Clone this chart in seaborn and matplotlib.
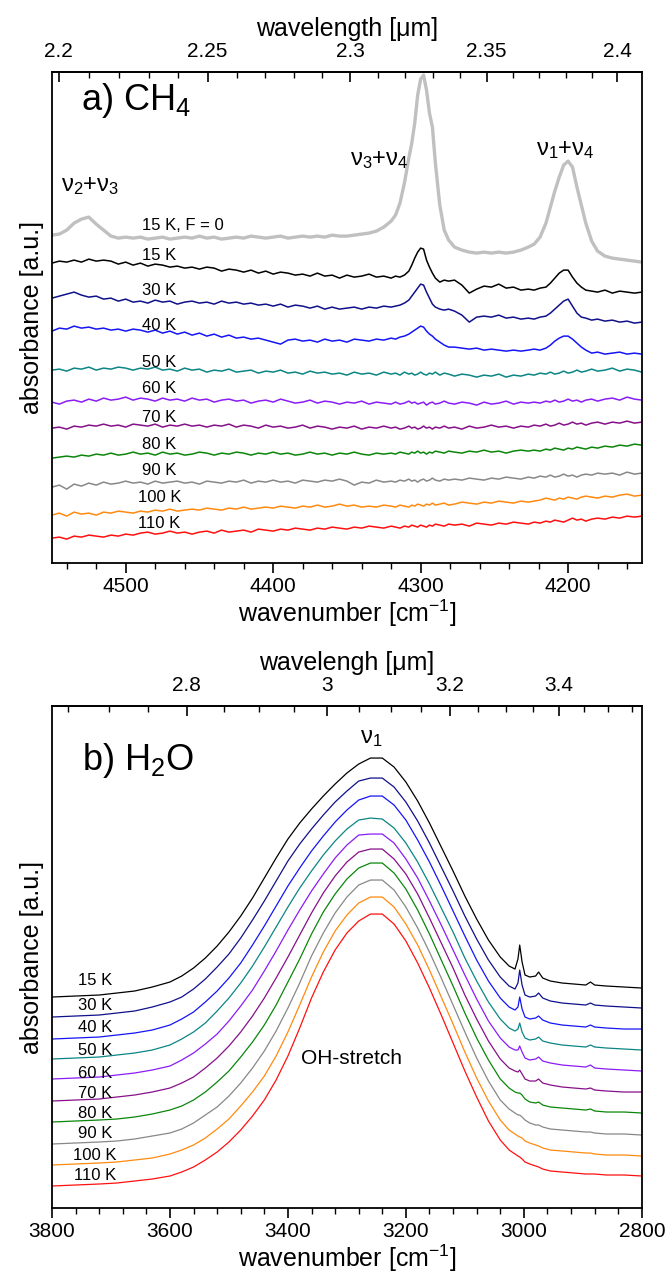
import numpy as np
import matplotlib
matplotlib.use('Agg')
import matplotlib.pyplot as plt
import seaborn as sns
from matplotlib.ticker import FixedLocator, MultipleLocator

sns.set_theme(style='white')
plt.rcParams['font.family'] = ['Liberation Sans', 'DejaVu Sans']
plt.rcParams['mathtext.fontset'] = 'custom'
plt.rcParams['mathtext.rm'] = 'Liberation Sans'
plt.rcParams['mathtext.it'] = 'Liberation Sans:italic'
plt.rcParams['mathtext.default'] = 'regular'
plt.rcParams['text.color'] = 'black'
plt.rcParams['axes.labelcolor'] = 'black'
plt.rcParams['xtick.color'] = 'black'
plt.rcParams['ytick.color'] = 'black'

# ---------------- panel a) CH4 : wavenumber grid [cm-1] ----------------
wn_ch4 = [4550, 4545, 4540, 4535, 4530, 4525, 4520, 4515, 4510, 4505, 4500, 4495, 4490, 4485, 4480, 4475,
          4470, 4465, 4460, 4455, 4450, 4445, 4440, 4435, 4430, 4425, 4420, 4415, 4410, 4405, 4400, 4395,
          4390, 4385, 4380, 4375, 4370, 4365, 4360, 4355, 4350, 4345, 4340, 4335, 4330, 4325, 4320,
          4317, 4314, 4311, 4308, 4306, 4304, 4302, 4300, 4298, 4296, 4294, 4292, 4290, 4287, 4284, 4281,
          4277, 4272, 4267, 4262, 4257, 4252, 4247, 4242, 4237, 4232, 4227,
          4223, 4219, 4215, 4212, 4209, 4206, 4203, 4200, 4197, 4194, 4191, 4188, 4184, 4180,
          4175, 4170, 4165, 4160, 4155, 4150]

ch4_labels = ['15 K, F = 0', '15 K', '30 K', '40 K', '50 K', '60 K', '70 K', '80 K', '90 K', '100 K', '110 K']

ch4_15K_F0 = [0, 1, 5, 12, 16, 18, 11, 5, -1, -3, -2, -3, -2, -4, -3, -2, -4, -3, -2, -3, -1, -3, -2, -4, -3, -2,
              -3, -1, -2, -3, -2, -1, -3, -2, -1, -2, -1, -2, 0, -1, -1, 0, 1, 2, 4, 8, 14,
              20, 32, 52, 77, 92, 112, 140, 156, 160, 145, 122, 108, 72, 30, 5, -5,
              -12, -15, -17, -18, -17, -18, -17, -18, -17, -15, -12,
              -9, -2, 12, 28, 44, 58, 70, 74, 68, 48, 30, 12, -6, -16,
              -21, -23, -24, -25, -26, -27]
ch4_15K = [0, 2, 1, 3, 1, 4, 2, 3, 2, -1, 1, -2, 0, -3, -1, -2, -4, -3, -5, -4, -6, -4, -5, -8, -6, -7,
           -9, -7, -10, -8, -11, -9, -10, -12, -11, -13, -10, -13, -12, -15, -12, -14, -13, -11, -14, -13, -15,
           -13, -14, -12, -8, -2, 5, 11, 15, 14, 3, -4, -10, -15, -19, -17, -18,
           -17, -22, -30, -26, -23, -24, -21, -25, -24, -27, -26,
           -27, -25, -24, -20, -15, -10, -7, -7, -14, -20, -24, -27, -28, -29,
           -27, -30, -28, -29, -30, -29]
ch4_30K = [0, 2, 4, 6, 3, 1, 2, -1, 0, -3, -1, -4, -3, -5, -2, -4, -3, -6, -4, -3, -5, -4, -6, -3, -5, -4,
           -6, -5, -7, -6, -8, -6, -9, -7, -8, -10, -8, -11, -9, -11, -10, -9, -11, -9, -10, -8, -9,
           -8, -7, -5, -2, 2, 6, 10, 14, 13, 6, 0, -6, -9, -11, -12, -11,
           -13, -17, -24, -19, -18, -19, -17, -20, -19, -21, -20,
           -21, -19, -18, -15, -11, -7, -3, -1, -8, -15, -19, -20, -22, -21,
           -23, -22, -24, -23, -25, -24]
ch4_40K = [0, 3, 2, 5, 3, 4, 2, 3, 1, 2, 0, 2, 1, -1, 1, -2, 0, -3, -1, -4, -2, -5, -3, -6, -4, -7,
           -6, -8, -7, -9, -11, -13, -9, -8, -10, -9, -11, -8, -10, -9, -11, -8, -9, -10, -8, -9, -7,
           -8, -6, -5, -3, -1, 1, 3, 5, 4, 0, -3, -5, -8, -11, -14, -16,
           -16, -17, -18, -17, -19, -18, -19, -20, -19, -20, -19,
           -18, -19, -17, -14, -10, -7, -5, -5, -8, -12, -16, -19, -22, -21,
           -23, -22, -21, -23, -22, -23]
ch4_50K = [0, 1, -1, 2, 1, 3, 0, 2, 1, 3, 2, 0, 2, 1, 3, 0, 1, -1, 2, 0, 1, -2, 0, -1, 1, -2,
           -1, 0, -3, -1, -2, 0, -3, -2, -4, -1, -3, -2, -4, -3, -5, -2, -4, -3, -5, -2, -4,
           -3, -5, -2, -4, -3, -5, -4, -2, -4, -5, -3, -4, -2, -5, -3, -4,
           -6, -4, -5, -7, -5, -6, -4, -7, -5, -6, -4,
           -5, -3, -4, -2, -4, -3, -1, -3, -2, 0, -2, -1, 1, -1,
           0, 2, -1, 1, 0, -2]
ch4_60K = [0, -2, 1, 2, 0, 3, 1, 4, 2, 3, 5, 2, 4, 3, 1, 4, 2, 3, 1, 4, 2, 3, 0, 2, 3, 1,
           2, -1, 1, 2, 0, 3, 1, -1, 0, 2, -1, 1, 0, -2, 0, -1, 1, -2, 0, -1, -2,
           0, -2, -1, 1, -1, 0, -2, -1, 0, -3, -1, 0, -2, -1, 1, -1,
           -2, 0, -1, -3, 0, -2, -1, 1, -2, 0, -1,
           0, -1, 1, 0, 2, 0, 1, 3, 1, 2, 0, 2, 3, 1,
           3, 4, 2, 5, 3, 2]
ch4_70K = [0, 1, -1, 2, 1, 3, 2, 4, 2, 3, 1, 4, 3, 2, 4, 1, 3, 2, 4, 2, 3, 1, 3, 2, 4, 1,
           3, 2, 0, 3, 1, 2, 0, 1, 3, 0, 2, 1, -1, 1, 0, 2, -1, 1, 0, 2, 0,
           1, -1, 0, 2, 0, 1, -1, 0, 2, 0, 1, -1, 1, 0, 2, 0,
           1, -1, 2, 0, 1, 3, 1, 2, 0, 2, 1,
           3, 2, 4, 2, 3, 5, 3, 4, 6, 4, 5, 3, 5, 6,
           4, 6, 5, 7, 5, 6]
ch4_80K = [0, 1, 2, 1, 3, 2, 4, 3, 5, 3, 4, 6, 4, 5, 3, 6, 4, 5, 3, 4, 6, 5, 3, 5, 4, 6,
           5, 3, 5, 4, 6, 4, 5, 3, 4, 6, 4, 5, 3, 5, 4, 6, 4, 3, 5, 4, 5,
           4, 6, 5, 4, 6, 5, 7, 5, 6, 4, 6, 5, 7, 6, 5, 7,
           6, 5, 7, 6, 8, 6, 7, 5, 7, 8, 7,
           8, 7, 9, 8, 10, 9, 8, 10, 9, 11, 10, 9, 11, 10,
           12, 11, 13, 12, 14, 13]
ch4_90K = [0, 2, -2, 3, 1, 4, 2, 5, 3, 4, 6, 4, 5, 3, 6, 4, 5, 6, 4, 5, 3, 6, 5, 4, 6, 5,
           7, 4, 6, 5, 7, 5, 6, 4, 7, 6, 5, 7, 6, 8, 6, 2, 5, 4, 7, 5, 6,
           5, 7, 6, 8, 6, 7, 5, 7, 8, 6, 7, 9, 7, 6, 8, 7,
           8, 7, 9, 8, 7, 9, 8, 10, 9, 8, 10,
           9, 11, 10, 12, 10, 11, 13, 11, 12, 10, 12, 13, 12, 14,
           13, 14, 12, 15, 13, 14]
ch4_100K = [0, 2, -1, 3, 1, 2, 0, 3, 2, 4, 3, 2, 4, 3, 5, 4, 6, 4, 5, 6, 5, 7, 6, 5, 7, 6,
            8, 6, 7, 8, 7, 9, 8, 7, 9, 8, 10, 8, 9, 11, 9, 10, 8, 9, 8, 10, 9,
            8, 10, 9, 8, 10, 9, 11, 10, 9, 11, 10, 12, 10, 11, 12, 10,
            11, 13, 12, 11, 13, 12, 14, 13, 12, 14, 13,
            14, 15, 17, 16, 15, 17, 16, 18, 17, 16, 18, 19, 18, 17,
            19, 18, 20, 21, 19, 20]
ch4_110K = [0, 1, -1, 2, 1, 3, 2, 1, 3, 2, 4, 3, 5, 6, 4, 5, 7, 5, 6, 4, 6, 7, 5, 8, 6, 7,
            8, 6, 9, 8, 7, 9, 8, 10, 9, 8, 10, 9, 11, 10, 9, 11, 10, 12, 11, 10, 12,
            11, 10, 12, 11, 13, 12, 11, 13, 12, 11, 13, 12, 14, 13, 12, 14,
            13, 14, 12, 15, 14, 13, 15, 14, 16, 15, 14,
            16, 15, 17, 16, 18, 17, 16, 18, 20, 18, 19, 17, 19, 20,
            19, 21, 20, 22, 21, 22]

# ---------------- panel b) H2O : wavenumber grid [cm-1] ----------------
wn_h2o = [3800, 3760, 3720, 3690, 3660, 3630, 3600, 3580, 3560, 3540, 3520, 3500, 3480, 3460, 3440, 3420,
          3400, 3380, 3360, 3340, 3320, 3300, 3280, 3260, 3240, 3220, 3200, 3180, 3160, 3140, 3120, 3100,
          3080, 3060, 3040,
          3025, 3015, 3010, 3007, 3003, 2998, 2990, 2980, 2975, 2968, 2955, 2935, 2915, 2895, 2887, 2880,
          2860, 2830, 2800]

h2o_labels = ['15 K', '30 K', '40 K', '50 K', '60 K', '70 K', '80 K', '90 K', '100 K', '110 K']

h2o_15K = [0, 1, 2, 4, 6, 10, 15, 21, 29, 39, 51, 65, 81, 99, 119, 139, 158, 174, 188, 201, 213, 224, 233,
           239, 239, 230, 215, 196, 174, 150, 126, 101, 78, 57, 40,
           31, 28, 38, 52, 35, 22, 20, 21, 25, 19, 16, 14, 13, 12, 15, 12, 11, 10, 9]
h2o_30K = [0, 1, 2, 4, 6, 10, 15, 20, 28, 38, 50, 63, 79, 97, 116, 136, 156, 173, 188, 202, 215, 226, 236,
           239, 239, 230, 215, 196, 174, 150, 126, 101, 78, 57, 40,
           31, 28, 34, 47, 32, 22, 20, 21, 24, 19, 16, 14, 13, 12, 14, 12, 11, 10, 9]
h2o_40K = [0, 1, 2, 4, 6, 9, 14, 20, 27, 37, 48, 61, 76, 94, 113, 133, 153, 171, 188, 203, 217, 229, 239,
           243, 243, 234, 219, 199, 177, 153, 128, 103, 79, 58, 41,
           32, 29, 32, 42, 30, 22, 20, 21, 23, 19, 16, 14, 13, 12, 14, 12, 11, 10, 10]
h2o_50K = [0, 1, 2, 4, 6, 9, 14, 20, 27, 36, 48, 61, 76, 93, 112, 132, 152, 171, 188, 204, 218, 230, 239,
           241, 240, 231, 216, 197, 175, 151, 127, 101, 78, 57, 40,
           31, 28, 30, 36, 27, 21, 19, 20, 22, 18, 16, 14, 13, 12, 14, 12, 11, 10, 9]
h2o_60K = [0, 1, 2, 4, 6, 9, 13, 19, 26, 35, 45, 58, 73, 89, 108, 128, 149, 169, 188, 205, 221, 234, 244,
           245, 245, 236, 220, 201, 178, 154, 129, 104, 80, 58, 41,
           32, 29, 29, 33, 27, 21, 19, 20, 22, 18, 16, 14, 13, 12, 14, 11, 10, 9, 8]
h2o_70K = [0, 1, 2, 4, 6, 9, 13, 18, 24, 33, 43, 55, 69, 85, 103, 123, 144, 166, 188, 208, 225, 239, 249,
           252, 252, 242, 227, 207, 183, 158, 133, 106, 82, 60, 42,
           33, 30, 29, 31, 27, 22, 20, 20, 22, 18, 16, 14, 13, 12, 13, 11, 10, 9, 9]
h2o_80K = [0, 1, 2, 3, 5, 8, 12, 16, 22, 30, 40, 51, 65, 80, 97, 117, 140, 163, 188, 210, 228, 243, 254,
           259, 259, 249, 233, 212, 188, 162, 136, 109, 84, 62, 43,
           34, 30, 29, 29, 27, 23, 20, 19, 20, 17, 15, 14, 13, 12, 13, 11, 10, 10, 9]
h2o_90K = [0, 1, 2, 3, 5, 8, 11, 15, 21, 29, 37, 48, 61, 76, 93, 113, 136, 161, 188, 211, 231, 247, 259,
           264, 264, 254, 237, 216, 192, 166, 139, 112, 86, 63, 44,
           35, 31, 29, 29, 27, 24, 21, 19, 19, 17, 15, 14, 13, 12, 12, 11, 10, 10, 9]
h2o_100K = [0, 1, 2, 3, 5, 7, 11, 15, 20, 27, 36, 46, 59, 73, 89, 109, 133, 160, 188, 213, 234, 250, 262,
            268, 268, 258, 241, 220, 195, 168, 141, 113, 87, 64, 45,
            35, 31, 29, 28, 27, 24, 22, 20, 19, 17, 15, 14, 13, 12, 12, 11, 10, 10, 9]
h2o_110K = [0, 1, 2, 3, 5, 7, 10, 14, 19, 26, 34, 44, 56, 70, 86, 106, 130, 158, 188, 214, 236, 253, 265,
            272, 272, 262, 245, 223, 198, 171, 143, 115, 89, 65, 46,
            36, 32, 30, 29, 27, 24, 22, 20, 19, 17, 15, 14, 13, 12, 12, 12, 11, 11, 10]

# ---------------- styling ----------------
ch4_series = [ch4_15K_F0, ch4_15K, ch4_30K, ch4_40K, ch4_50K, ch4_60K, ch4_70K,
              ch4_80K, ch4_90K, ch4_100K, ch4_110K]
h2o_series = [h2o_15K, h2o_30K, h2o_40K, h2o_50K, h2o_60K, h2o_70K, h2o_80K, h2o_90K, h2o_100K, h2o_110K]
temp_colors = ['#000000', '#10108a', '#1515f5', '#0c8585', '#8a1cf5', '#86108a', '#0b860b',
               '#888888', '#ff8a10', '#ff1010']
ch4_colors = ['#c0c0c0'] + temp_colors
ch4_offsets = [328, 300, 265, 232, 193, 161, 135, 105, 76, 48, 25]      # vertical display shifts
h2o_offsets = [211, 191, 169, 149, 129, 107, 86, 64, 43, 22]

ch4_label_pos = [(4489, 338, 'left'), (4477, 308, 'center'), (4477, 273, 'center'), (4477, 238, 'center'),
                 (4477, 201, 'center'), (4477, 175, 'center'), (4477, 146, 'center'), (4477, 119, 'center'),
                 (4477, 93, 'center'), (4477, 66, 'center'), (4477, 40, 'center')]
h2o_label_pos = [228, 203, 181, 158, 135, 115, 95, 75, 53, 33]


def inv(x):
    x = np.asarray(x, dtype=float)
    safe = np.where(np.abs(x) < 1e-9, 1.0, x)
    return np.where(np.abs(x) < 1e-9, 1e9, 1e4 / safe)


fig = plt.figure(figsize=(6.68, 12.74), dpi=100)
ax1 = fig.add_axes([0.0778, 0.558, 0.883, 0.3854])
ax2 = fig.add_axes([0.0778, 0.0518, 0.883, 0.394])

# panel a
for vals, off, col in zip(ch4_series, ch4_offsets, ch4_colors):
    y = np.asarray(vals, float) + off
    lw = 2.4 if col == '#c0c0c0' else 1.1
    sns.lineplot(x=wn_ch4, y=y, color=col, linewidth=lw, ax=ax1, sort=False, estimator=None, legend=False)
for lab, (xx, yy, ha) in zip(ch4_labels, ch4_label_pos):
    ax1.text(xx, yy, lab, fontsize=12, ha=ha, va='center')

ax1.set_xlim(4550, 4150)
ax1.set_ylim(0, 491)
ax1.text(4530, 463, 'a) CH$_4$', fontsize=26, ha='left', va='center')
ax1.text(4524, 377, '\u03bd$_2$+\u03bd$_3$', fontsize=17, ha='center', va='center')
ax1.text(4328, 403, '\u03bd$_3$+\u03bd$_4$', fontsize=17, ha='center', va='center')
ax1.text(4202, 413, '\u03bd$_1$+\u03bd$_4$', fontsize=17, ha='center', va='center')
ax1.set_xticks([4500, 4400, 4300, 4200])
ax1.xaxis.set_minor_locator(MultipleLocator(20))
ax1.set_xlabel('wavenumber [cm$^{-1}$]', fontsize=18, labelpad=1)
ax1.set_ylabel('absorbance [a.u.]', fontsize=18, labelpad=6)

sec1 = ax1.secondary_xaxis('top', functions=(inv, inv))
sec1.set_xticks([2.2, 2.25, 2.3, 2.35, 2.4])
sec1.set_xticklabels(['2.2', '2.25', '2.3', '2.35', '2.4'])
sec1.xaxis.set_minor_locator(FixedLocator([round(2.19 + 0.01 * i, 2) for i in range(23)]))
sec1.set_xlabel('wavelength [\u03bcm]', fontsize=18, labelpad=4)

# panel b
for vals, off, col in zip(h2o_series, h2o_offsets, temp_colors):
    y = np.asarray(vals, float) + off
    sns.lineplot(x=wn_h2o, y=y, color=col, linewidth=0.9, ax=ax2, sort=False, estimator=None, legend=False)
for lab, yy in zip(h2o_labels, h2o_label_pos):
    ax2.text(3727, yy, lab, fontsize=12, ha='center', va='center')

ax2.set_xlim(3800, 2800)
ax2.set_ylim(0, 502)
ax2.text(3749, 448, 'b) H$_2$O', fontsize=26, ha='left', va='center')
ax2.text(3258, 470, '\u03bd$_1$', fontsize=17, ha='center', va='center')
ax2.text(3292, 150, 'OH-stretch', fontsize=15, ha='center', va='center')
ax2.set_xticks([3800, 3600, 3400, 3200, 3000, 2800])
ax2.xaxis.set_minor_locator(MultipleLocator(40))
ax2.set_xlabel('wavenumber [cm$^{-1}$]', fontsize=18, labelpad=1)
ax2.set_ylabel('absorbance [a.u.]', fontsize=18, labelpad=6)

sec2 = ax2.secondary_xaxis('top', functions=(inv, inv))
sec2.set_xticks([2.8, 3.0, 3.2, 3.4])
sec2.set_xticklabels(['2.8', '3', '3.2', '3.4'])
sec2.xaxis.set_minor_locator(FixedLocator([round(2.65 + 0.05 * i, 2) for i in range(19)]))
sec2.set_xlabel('wavelengh [\u03bcm]', fontsize=18, labelpad=4)

for ax in (ax1, ax2):
    ax.set_yticks([])
    for sp in ax.spines.values():
        sp.set_visible(True)
        sp.set_color('black')
        sp.set_linewidth(1.3)
    ax.tick_params(axis='x', which='major', direction='out', length=7, width=1.2, labelsize=15,
                   pad=3, bottom=True, top=False, colors='black')
    ax.tick_params(axis='x', which='minor', direction='out', length=4, width=1.0, bottom=True, top=False,
                   colors='black')
for sec in (sec1, sec2):
    sec.spines['top'].set_linewidth(1.3)
    sec.spines['top'].set_color('black')
    sec.tick_params(axis='x', which='major', direction='in', length=7, width=1.2, labelsize=15, pad=8,
                    colors='black')
    sec.tick_params(axis='x', which='minor', direction='in', length=4, width=1.0, colors='black')

fig.savefig('out.png', dpi=100)
